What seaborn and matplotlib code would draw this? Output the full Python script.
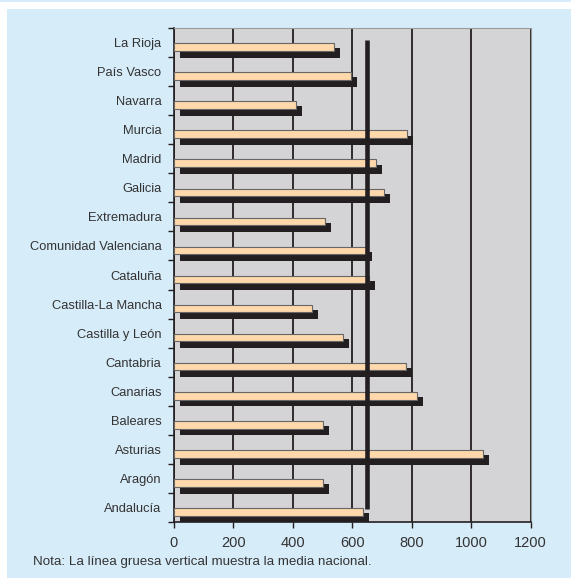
import matplotlib
matplotlib.use("Agg")
import matplotlib.pyplot as plt
import matplotlib.patches as mpatches
from matplotlib.transforms import offset_copy
from matplotlib.ticker import FixedLocator
import seaborn as sns
import numpy as np

# --- Data ---
regions = [
    "La Rioja", "País Vasco", "Navarra", "Murcia", "Madrid", "Galicia",
    "Extremadura", "Comunidad Valenciana", "Cataluña", "Castilla-La Mancha",
    "Castilla y León", "Cantabria", "Canarias", "Baleares", "Asturias",
    "Aragón", "Andalucía",
]
values = [538, 594, 411, 783, 680, 706, 508, 645, 657, 463,
          569, 780, 818, 502, 1040, 500, 637]
national_mean = 650
x_ticks = [0, 200, 400, 600, 800, 1000, 1200]
note = "Nota: La línea gruesa vertical muestra la media nacional."

# --- Colours ---
FRAME_BLUE = "#d6ecf9"
PLOT_GRAY = "#d4d4d6"
PEACH = "#ffd8ac"
DARK = "#231f20"
TEXT = "#333333"

sns.set_style("white")
plt.rcParams["font.family"] = ["Liberation Sans", "DejaVu Sans"]

fig = plt.figure(figsize=(5.71, 5.78), dpi=100)
fig.patch.set_facecolor("white")

# light blue frame behind everything
fig.patches.append(mpatches.Rectangle((7 / 571, 0), 1, 1 - 9 / 578,
                                      transform=fig.transFigure,
                                      facecolor=FRAME_BLUE, edgecolor="none", zorder=-10))
fig.patches.append(mpatches.Rectangle((0, 1 - 2 / 578), 1, 2 / 578,
                                      transform=fig.transFigure,
                                      facecolor=FRAME_BLUE, edgecolor="none", zorder=-10))

ax = fig.add_axes([174 / 571, 1 - 522 / 578, (530.7 - 174) / 571, (522 - 28) / 578])
ax.set_facecolor(PLOT_GRAY)

# shadow bars (offset down/right)
sns.barplot(x=values, y=regions, orient="h", color=DARK, saturation=1,
            width=0.32, linewidth=0, ax=ax, zorder=2)
n_shadow = len(ax.patches)
shadow_tr = offset_copy(ax.transData, fig=fig, x=6, y=-10.5, units="dots")
for p in ax.patches[:n_shadow]:
    p.set_transform(shadow_tr)

# front bars
sns.barplot(x=values, y=regions, orient="h", color=PEACH, saturation=1,
            width=0.26, edgecolor="#666666", linewidth=0.8, ax=ax, zorder=3)
front_tr = offset_copy(ax.transData, fig=fig, x=0, y=-4.5, units="dots")
for p in ax.patches[n_shadow:]:
    p.set_transform(front_tr)

# national mean line
ax.plot([national_mean, national_mean], [-0.07, len(regions) - 1 + 0.05],
        color=DARK, lw=3.3, solid_capstyle="butt", zorder=5)

# axes styling
ax.set_xlim(0, 1200)
ax.set_ylim(len(regions) - 0.5, -0.5)
ax.set_xticks(x_ticks)
ax.set_xticklabels([str(t) for t in x_ticks])
ax.set_xlabel("")
ax.set_ylabel("")
ax.xaxis.grid(True, color=DARK, lw=1.3, zorder=1)
ax.yaxis.grid(False)
ax.set_axisbelow(True)

ax.yaxis.set_minor_locator(FixedLocator(np.arange(-0.5, len(regions), 1.0)))
ax.tick_params(axis="y", which="major", length=0, pad=9, labelsize=9.3, labelcolor=TEXT)
ax.tick_params(axis="y", which="minor", length=4, width=1, color=DARK, direction="out", left=True)
ax.tick_params(axis="x", which="major", length=4, width=1, color=DARK, direction="out",
               bottom=True, pad=6, labelsize=10.5, labelcolor=TEXT)

for side in ["left", "bottom"]:
    ax.spines[side].set_color(DARK)
    ax.spines[side].set_linewidth(1.2)
for side in ["top", "right"]:
    ax.spines[side].set_color("#9a9a9a")
    ax.spines[side].set_linewidth(0.8)

fig.text(33 / 571, 1 - 562 / 578, note, fontsize=9.6, color=TEXT, va="center", ha="left")

fig.savefig("out.png", dpi=100, facecolor=fig.get_facecolor())
